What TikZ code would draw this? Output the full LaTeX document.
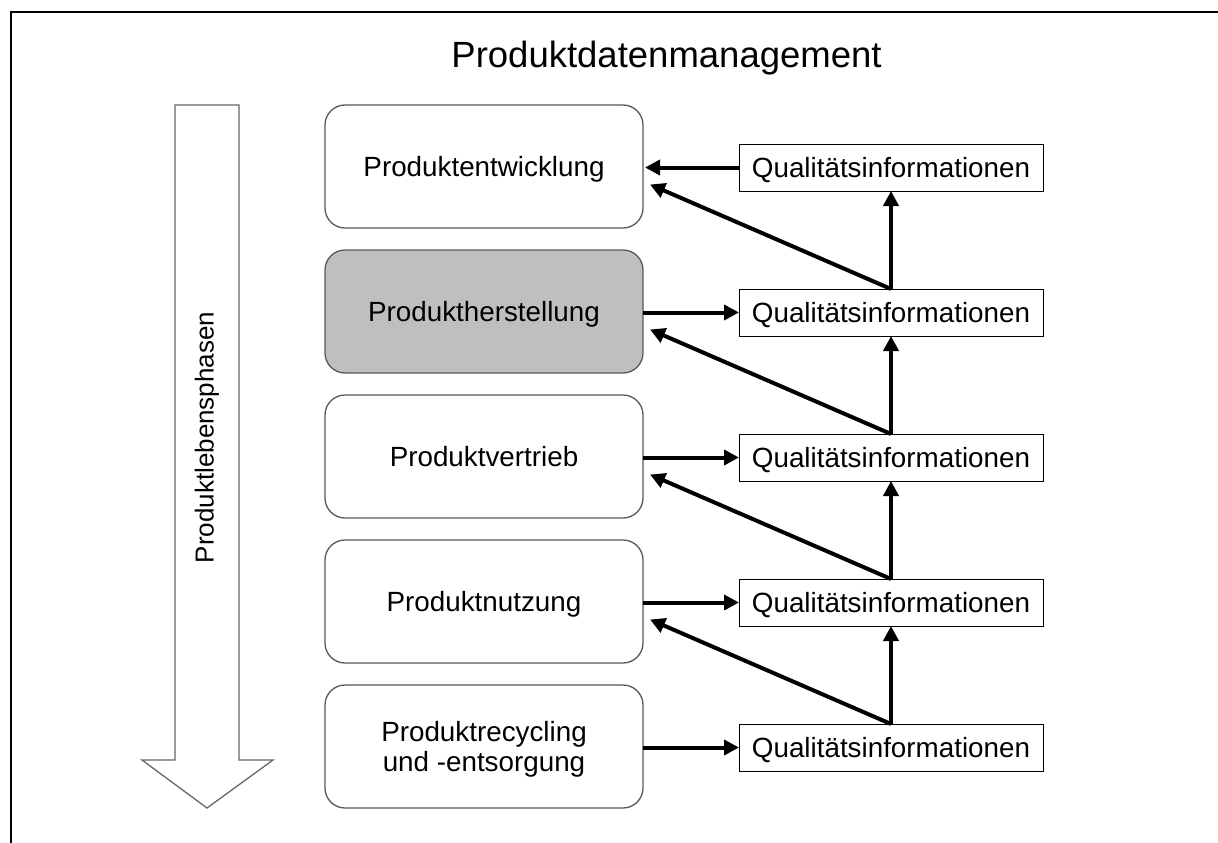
\documentclass[tikz,border=0pt]{standalone}
\usepackage{fontspec}
\setmainfont{Liberation Sans}
\usetikzlibrary{arrows.meta}
\begin{document}
\begin{tikzpicture}[x=1pt,y=-1pt,
  phasebox/.style={draw=black!65, line width=1.3pt, rounded corners=20pt,
    minimum width=318pt, minimum height=123pt, inner sep=0pt, outer sep=0pt,
    align=center, text depth=0pt, font=\fontsize{27.8}{30}\selectfont},
  infobox/.style={draw=black, line width=1pt, minimum width=304pt,
    minimum height=47pt, inner sep=0pt, outer sep=0pt, text depth=0pt,
    font=\fontsize{27.8}{31}\selectfont},
  flow/.style={line width=4pt, -{Triangle[length=15pt,width=15pt]}}]
\useasboundingbox (0,0) rectangle (1218,843);
\fill[white] (0,0) rectangle (1218,843);

% frame
\draw[line width=2.5pt] (11.2,843) -- (11.2,11.8) -- (1218,11.8);

% title
\node[anchor=base, font=\fontsize{36.5}{40}\selectfont] (title) at (666.5,67) {Produktdatenmanagement};

% life cycle arrow
\draw[draw=black!60, line width=1.3pt, line join=miter]
  (175,105) -- (239,105) -- (239,760) -- (273,760) -- (207,808)
  -- (142,760) -- (175,760) -- cycle;
\node[rotate=90, font=\fontsize{26}{30}\selectfont] (phasen) at (207,437.5) {Produktlebensphasen};

% phases
\node[phasebox] (L0) at (484,166.5) {Produktentwicklung};
\node[phasebox, fill=black!25] (L1) at (484,311.5) {Produktherstellung};
\node[phasebox] (L2) at (484,456.5) {Produktvertrieb};
\node[phasebox] (L3) at (484,601.5) {Produktnutzung};
\node[phasebox] (L4) at (484,746.5) {Produktrecycling\\und -entsorgung};

% quality information
\node[infobox] (R0) at (891,167.5) {Qualitätsinformationen};
\node[infobox] (R1) at (891,312.5) {Qualitätsinformationen};
\node[infobox] (R2) at (891,457.5) {Qualitätsinformationen};
\node[infobox] (R3) at (891,602.5) {Qualitätsinformationen};
\node[infobox] (R4) at (891,747.5) {Qualitätsinformationen};

% horizontal flows
\draw[flow] (R0.west) -- ([xshift=2pt]R0.west -| L0.east);
\foreach \i in {1,2,3,4} {
  \draw[flow] (L\i.east |- R\i.west) -- (R\i.west);
}

% upward and feedback flows
\foreach \i/\j in {1/0,2/1,3/2,4/3} {
  \draw[flow] (R\i.north) -- (R\j.south);
  \draw[flow] (R\i.north) -- ([xshift=7pt,yshift=-18pt]L\j.east);
}
\end{tikzpicture}
\end{document}
